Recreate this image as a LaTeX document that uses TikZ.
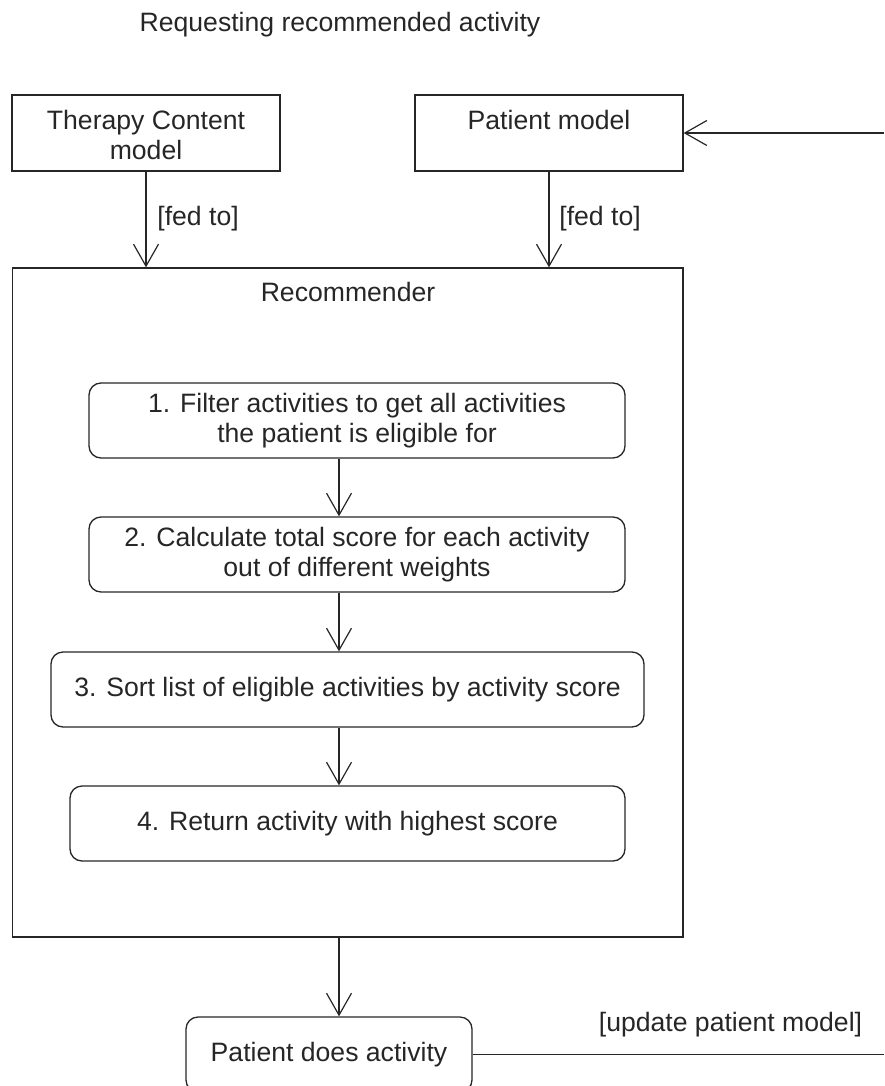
\documentclass[tikz,border=0pt]{standalone}
\usepackage{fontspec}
\setmainfont{Liberation Sans}
\usetikzlibrary{arrows.meta}
\begin{document}
\begin{tikzpicture}[x=0.5pt,y=-0.5pt,
  every node/.style={font=\fontsize{13.3}{15}\selectfont, text=black!85},
  frame/.style={draw=black!85, line width=0.65pt, rectangle, inner sep=0pt},
  stepbox/.style={frame, rounded corners=6pt, align=center, minimum height=37.5pt},
  lbl/.style={inner sep=0pt, anchor=base},
  flow/.style={draw=black!85, line width=0.6pt, -{Straight Barb[length=11pt,width=12.5pt,line width=0.6pt]}},
  plain/.style={draw=black!85, line width=0.65pt}]
\useasboundingbox (0,0) rectangle (884,1086);
% title
\node[lbl] (title) at (340,32) {Requesting recommended activity};
% top boxes
\node[frame, minimum width=134pt, minimum height=38pt] (therapy) at (146,133) {};
\node[inner sep=0pt, anchor=north, align=center] (therapyt) at (146,110) {Therapy Content\\model};
\node[frame, minimum width=134pt, minimum height=38pt] (patient) at (549,133) {};
\node[lbl] (patientt) at (549,129) {Patient model};
% recommender
\node[frame, minimum width=335.25pt, minimum height=334.5pt] (rec) at (347.75,602.5) {};
\node[lbl] (rect) at (348,301) {Recommender};
% steps
\node[stepbox, minimum width=268pt] (s1) at (357,420.5) {1. Filter activities to get all activities\\the patient is eligible for};
\node[stepbox, minimum width=268pt] (s2) at (357,554.5) {2. Calculate total score for each activity\\out of different weights};
\node[stepbox, minimum width=296.5pt] (s3) at (347.5,689.5) {3. Sort list of eligible activities by activity score};
\node[stepbox, minimum width=277.5pt] (s4) at (347.5,823.5) {4. Return activity with highest score};
\node[stepbox, minimum width=143pt] (pda) at (329,1054.5) {Patient does activity};
% coordinates
\coordinate (ax) at (339,0);
\coordinate (re1) at (884,133);
\coordinate (re2) at (884,1054.5);
% connectors
\draw[flow] (therapy.south) -- (therapy.south |- rec.north);
\draw[flow] (patient.south) -- (patient.south |- rec.north);
\node[lbl, anchor=base west] (fed1) at (157,225) {[fed to]};
\node[lbl, anchor=base west] (fed2) at (559,225) {[fed to]};
\draw[flow] (ax |- s1.south) -- (ax |- s2.north);
\draw[flow] (ax |- s2.south) -- (ax |- s3.north);
\draw[flow] (ax |- s3.south) -- (ax |- s4.north);
\draw[flow] (ax |- rec.south) -- (ax |- pda.north);
\draw[flow] (re1) -- (patient.east);
\draw[plain] (pda.east) -- (re2);
\node[lbl] (upd) at (730.5,1031) {[update patient model]};
\end{tikzpicture}
\end{document}
